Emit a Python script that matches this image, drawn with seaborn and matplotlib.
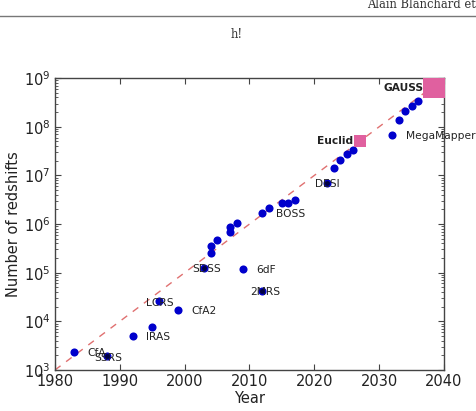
import matplotlib
matplotlib.use('Agg')
import seaborn as sns
import matplotlib.pyplot as plt
import pandas as pd

# surveys (blue dots)
years = [1983, 1988, 1992, 1995, 1996, 1999, 2003, 2004, 2004, 2005, 2007, 2007, 2008,
         2009, 2012, 2012, 2013, 2015, 2016, 2017, 2022, 2023, 2024, 2025, 2026,
         2032, 2033, 2034, 2035, 2036]
nz = [2.3e3, 1.95e3, 5.0e3, 7.6e3, 2.6e4, 1.75e4, 1.23e5, 2.5e5, 3.6e5, 4.6e5, 7.0e5, 8.7e5, 1.03e6,
      1.21e5, 4.2e4, 1.66e6, 2.1e6, 2.75e6, 2.75e6, 3.1e6, 6.9e6, 1.4e7, 2.05e7, 2.7e7, 3.4e7,
      6.9e7, 1.38e8, 2.06e8, 2.7e8, 3.4e8]

# darker dots drawn on top
dark_years = [1988, 2003, 2012, 2022]
dark_nz = [1.95e3, 1.23e5, 4.2e4, 6.9e6]

# space missions (pink squares)
mission_years = [2027, 2038.5]
mission_nz = [5.0e7, 6.6e8]

# dashed trend line
trend_years = [1980, 2038]
trend_nz = [1e3, 6.3e8]

labels = ['CfA', 'SSRS', 'IRAS', 'LCRS', 'CfA2', 'SDSS', '6dF', '2MRS', 'BOSS', 'DESI', 'MegaMapper']
label_x = [1985.0, 1986.1, 1994.0, 1994.0, 2001.1, 2001.1, 2011.1, 2010.1, 2014.1, 2020.1, 2034.1]
label_y = [2.2e3, 1.8e3, 4.8e3, 2.4e4, 1.65e4, 1.17e5, 1.12e5, 4.0e4, 1.58e6, 6.6e6, 6.5e7]

df = pd.DataFrame({'Year': years, 'N': nz})

plt.rcParams['xtick.direction'] = 'in'
plt.rcParams['ytick.direction'] = 'in'

fig = plt.figure(figsize=(4.76, 4.11), dpi=100)
ax = fig.add_axes([0.1155, 0.0998, 0.8173, 0.7102])

sns.lineplot(x=trend_years, y=trend_nz, ax=ax, color='#e07070', linestyle=(0, (5, 5)), linewidth=1.0)
sns.scatterplot(data=df, x='Year', y='N', ax=ax, color='#0000cc', s=34, edgecolor='#0000cc', linewidth=0, zorder=3)
sns.scatterplot(x=dark_years, y=dark_nz, ax=ax, color='#000044', s=12, linewidth=0, zorder=4)
sns.scatterplot(x=mission_years[:1], y=mission_nz[:1], ax=ax, color='#e0609f', marker='s', s=70, linewidth=0, zorder=3)
sns.scatterplot(x=mission_years[1:], y=mission_nz[1:], ax=ax, color='#e0609f', marker='s', s=230, linewidth=0, zorder=3)

ax.set_yscale('log')
ax.set_xlim(1980, 2040)
ax.set_ylim(1e3, 1e9)
ax.set_xticks([1980, 1990, 2000, 2010, 2020, 2030, 2040])
ax.set_xlabel('Year', fontsize=10.5, color='#222222', labelpad=1.5)
ax.set_ylabel('Number of redshifts', fontsize=10.5, color='#222222', labelpad=2)
ax.tick_params(which='both', top=True, right=True, labelsize=10.5, labelcolor='#222222', color='#444444')
ax.tick_params(which='major', length=4, pad=3)
ax.tick_params(which='minor', length=2)
for sp in ax.spines.values():
    sp.set_color('#444444')
    sp.set_linewidth(1.0)

for t, x, y in zip(labels, label_x, label_y):
    ax.text(x, y, t, fontsize=7.7, color='#222222', va='center', ha='left', clip_on=False)
ax.text(2026.0, 5.0e7, 'Euclid', fontsize=7.7, fontweight='bold', color='#222222', va='center', ha='right')
ax.text(2036.9, 6.4e8, 'GAUSS', fontsize=7.7, fontweight='bold', color='#222222', va='center', ha='right')

# page header from the paper
fig.text(0.771, 1 - 5 / 411, 'Alain Blanchard et', fontsize=8.3, family='DejaVu Serif', color='#333333', va='center', ha='left')
fig.add_artist(plt.Line2D([0, 1], [1 - 15.7 / 411, 1 - 15.7 / 411], color='#777777', linewidth=1.0))
fig.text(0.498, 1 - 35 / 411, 'h!', fontsize=8.3, family='DejaVu Serif', color='#333333', va='center', ha='center')

fig.savefig('out.png', dpi=100)
plt.close()
